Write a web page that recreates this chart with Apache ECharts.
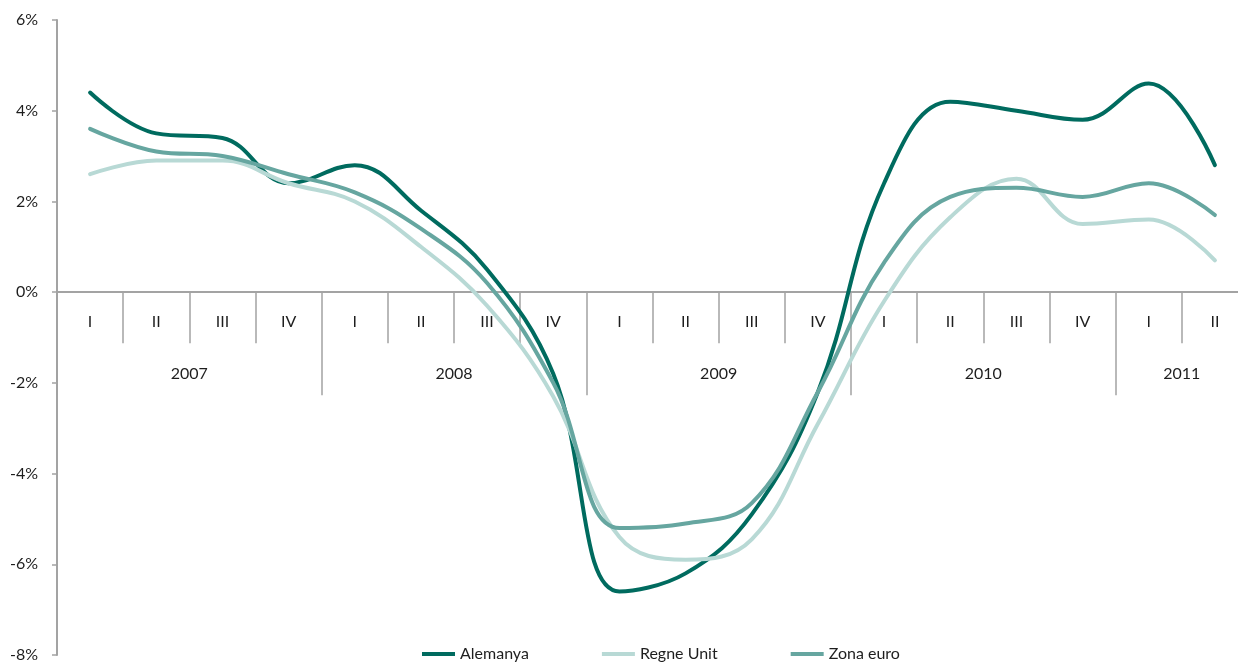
<!DOCTYPE html>
<html><head><meta charset="utf-8">
<script src="https://cdn.jsdelivr.net/npm/echarts@6/dist/echarts.min.js"></script>
<style>html,body{margin:0;padding:0;background:#fff}#c{width:1238px;height:669px}</style>
</head><body><div id="c"></div>
<script>
// ---- data ----
const quarters = ['I','II','III','IV','I','II','III','IV','I','II','III','IV','I','II','III','IV','I','II'];
const years = ['2007','2007','2007','2007','2008','2008','2008','2008','2009','2009','2009','2009','2010','2010','2010','2010','2011','2011'];
const alemanya  = [4.4, 3.5, 3.4, 2.4, 2.8, 1.8, 0.5, -1.8, -6.6, -6.2, -4.9, -2.2, 2.4, 4.2, 4.0, 3.8, 4.6, 2.8];
const regneUnit = [2.6, 2.9, 2.9, 2.4, 2.0, 1.0, -0.3, -2.3, -5.4, -5.9, -5.45, -2.9, -0.2, 1.65, 2.5, 1.5, 1.6, 0.7];
const zonaEuro  = [3.6, 3.1, 3.0, 2.6, 2.2, 1.4, 0.2, -2.0, -5.2, -5.1, -4.65, -2.2, 0.65, 2.1, 2.3, 2.1, 2.4, 1.7];
const seriesNames = ['Alemanya', 'Regne Unit', 'Zona euro'];
const yMin = -8, yMax = 6, yStep = 2;

// ---- layout helpers ----
const yearBoundary = years.map((y, i) => i === 0 || y !== years[i - 1]);
const yearLabelIdx = new Set();
[...new Set(years)].forEach(y => {
  const idx = years.map((v, i) => v === y ? i : -1).filter(i => i >= 0);
  yearLabelIdx.add(idx[Math.floor((idx.length - 1) / 2)]);
});

const chart = echarts.init(document.getElementById('c'), null, {renderer: 'canvas'});
const gridLeft = 57, gridRight = -10, gridTop = 20, gridBottom = 14;
const catW = (chart.getWidth() - gridLeft - gridRight) / quarters.length;
const plotH = chart.getHeight() - gridTop - gridBottom;
const zeroOffset = -plotH * (0 - yMin) / (yMax - yMin); // move category axes up to the 0% line
const axisColor = '#a3a3a3';
const font = 'Lato';
const txt = '#1e1e1e';

chart.setOption({
  animation: false,
  backgroundColor: '#fff',
  color: ['#006b5f', '#b8d9d5', '#66a6a0'],
  grid: {left: gridLeft, right: gridRight, top: gridTop, bottom: gridBottom, containLabel: false, outerBoundsMode: 'none'},
  legend: {
    left: 422, top: 646, padding: 0, itemGap: 73,
    icon: 'rect', itemWidth: 33, itemHeight: 4,
    textStyle: {fontFamily: font, fontSize: 16, color: txt, padding: [6, 0, 0, 0]},
    data: seriesNames
  },
  xAxis: [{
    type: 'category', data: quarters, boundaryGap: true, position: 'bottom', offset: zeroOffset,
    axisLine: {show: true, onZero: false, lineStyle: {color: axisColor, width: 2}},
    axisTick: {show: true, length: 51, interval: 0, lineStyle: {color: axisColor, width: 1.5}},
    axisLabel: {interval: 0, margin: 22, fontFamily: font, fontSize: 16, color: txt},
    splitLine: {show: false}
  }, {
    type: 'category', data: years, boundaryGap: true, position: 'bottom', offset: zeroOffset,
    axisLine: {show: false, onZero: false},
    axisTick: {show: true, length: 103, interval: (i) => yearBoundary[i], lineStyle: {color: axisColor, width: 1.5}},
    axisLabel: {interval: (i) => yearLabelIdx.has(i), margin: 74, fontFamily: font, fontSize: 16, color: txt,
      padding: [0, 0, 0, catW]},
    splitLine: {show: false}
  }],
  yAxis: [{
    type: 'value', min: yMin, max: yMax, interval: yStep,
    axisLine: {show: true, lineStyle: {color: axisColor, width: 2}},
    axisTick: {show: true, length: 5, lineStyle: {color: axisColor, width: 1.5}},
    axisLabel: {formatter: '{value}%', margin: 19, fontFamily: font, fontSize: 16, color: txt},
    splitLine: {show: false}
  }],
  series: [
    {name: seriesNames[0], type: 'line', data: alemanya},
    {name: seriesNames[1], type: 'line', data: regneUnit},
    {name: seriesNames[2], type: 'line', data: zonaEuro}
  ].map(s => Object.assign(s, {
    smooth: 0.4, showSymbol: false, symbol: 'none', xAxisIndex: 0, yAxisIndex: 0,
    lineStyle: {width: 4, cap: 'round', join: 'round'}
  }))
});
</script></body></html>
